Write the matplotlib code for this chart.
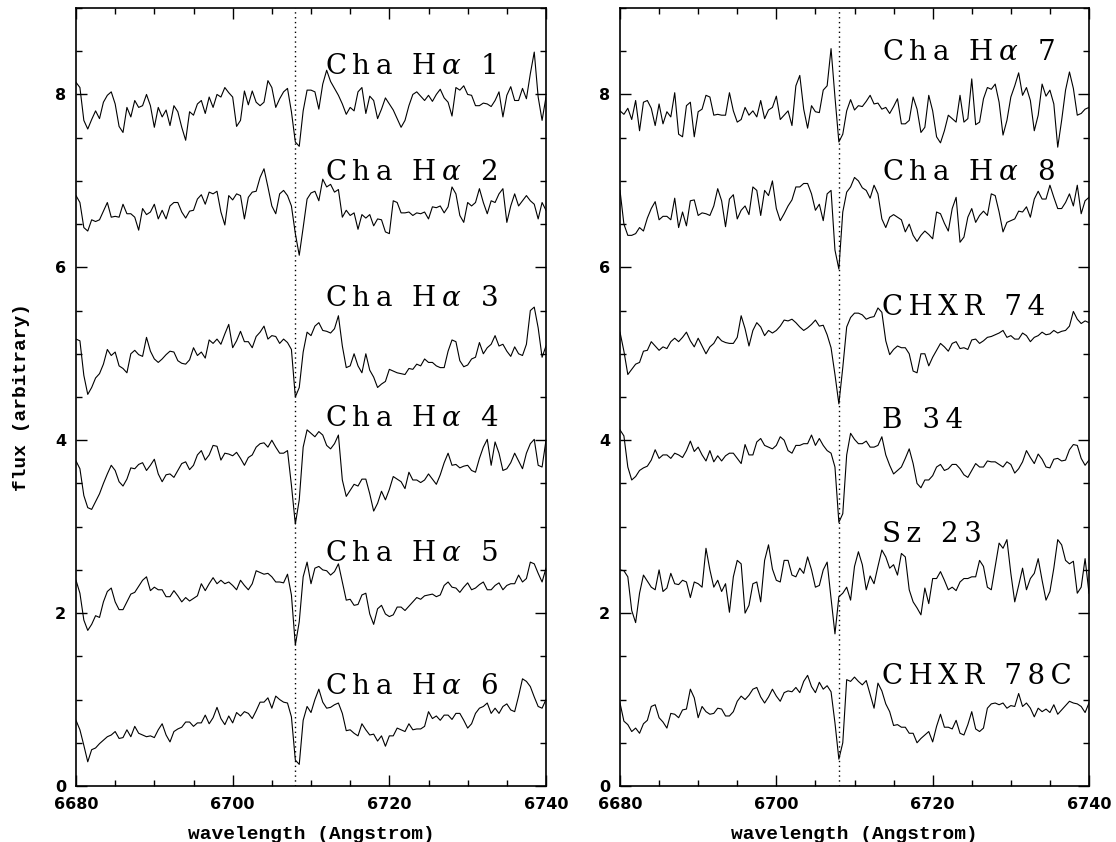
import numpy as np
import matplotlib
matplotlib.use("Agg")
import matplotlib.pyplot as plt
from matplotlib.ticker import MultipleLocator

# -----------------------------
# Data (0.5 A sampling)
# -----------------------------
wave = np.linspace(6680, 6740, 121)

cha1 = [8.14, 8.08, 7.70, 7.60, 7.71, 7.81, 7.72, 7.91, 7.99, 8.03,
        7.89, 7.63, 7.56, 7.85, 7.74, 7.93, 7.85, 7.87, 8.00, 7.87,
        7.62, 7.85, 7.74, 7.82, 7.64, 7.87, 7.80, 7.62, 7.47, 7.80,
        7.76, 7.89, 7.93, 7.78, 7.97, 7.85, 8.00, 7.97, 8.08, 8.02,
        7.97, 7.63, 7.70, 8.04, 7.88, 8.04, 7.91, 7.87, 7.91, 8.16,
        8.08, 7.85, 7.95, 8.03, 8.07, 7.80, 7.45, 7.40, 7.81, 8.05,
        8.05, 8.03, 7.83, 8.12, 8.28, 8.15, 8.07, 7.99, 7.89, 7.77,
        7.85, 7.81, 8.03, 8.08, 7.78, 7.98, 7.93, 7.72, 7.83, 7.96,
        7.89, 7.82, 7.72, 7.62, 7.70, 7.87, 8.00, 8.03, 7.98, 7.93,
        7.99, 7.92, 8.00, 8.06, 7.96, 7.91, 7.75, 8.08, 8.05, 8.10,
        8.00, 7.99, 7.87, 7.87, 7.90, 7.89, 7.86, 7.93, 8.03, 7.74,
        7.99, 8.09, 7.93, 7.93, 8.07, 7.95, 8.24, 8.49, 7.97, 7.70,
        7.97]
cha2 = [6.83, 6.75, 6.46, 6.42, 6.55, 6.53, 6.55, 6.65, 6.75, 6.58,
        6.59, 6.58, 6.73, 6.62, 6.62, 6.58, 6.43, 6.68, 6.61, 6.64,
        6.73, 6.56, 6.66, 6.56, 6.71, 6.75, 6.75, 6.64, 6.57, 6.65,
        6.66, 6.79, 6.84, 6.73, 6.87, 6.85, 6.88, 6.64, 6.49, 6.83,
        6.78, 6.85, 6.83, 6.56, 6.81, 6.87, 6.88, 7.04, 7.14, 6.93,
        6.71, 6.62, 6.85, 6.89, 6.83, 6.71, 6.39, 6.14, 6.46, 6.79,
        6.86, 6.88, 6.77, 7.02, 6.93, 6.96, 6.87, 6.90, 6.58, 6.66,
        6.60, 6.63, 6.44, 6.61, 6.57, 6.61, 6.48, 6.56, 6.55, 6.41,
        6.39, 6.77, 6.75, 6.63, 6.63, 6.64, 6.60, 6.63, 6.62, 6.64,
        6.56, 6.70, 6.69, 6.71, 6.63, 6.70, 6.93, 6.85, 6.60, 6.52,
        6.75, 6.71, 6.75, 6.91, 6.75, 6.62, 6.77, 6.75, 6.85, 6.91,
        6.52, 6.71, 6.85, 6.71, 6.77, 6.83, 6.77, 6.73, 6.56, 6.75,
        6.66]
cha3 = [5.17, 5.15, 4.75, 4.53, 4.61, 4.72, 4.77, 4.88, 5.05, 4.98,
        5.02, 4.86, 4.83, 4.78, 5.00, 5.04, 4.99, 4.97, 5.19, 5.03,
        4.94, 4.90, 4.94, 4.99, 5.03, 5.02, 4.92, 4.89, 4.88, 4.93,
        5.07, 4.98, 5.02, 4.95, 5.16, 5.12, 5.17, 5.11, 5.23, 5.34,
        5.07, 5.15, 5.26, 5.14, 5.14, 5.07, 5.20, 5.25, 5.32, 5.17,
        5.21, 5.20, 5.12, 5.17, 5.13, 5.05, 4.50, 4.61, 5.02, 5.25,
        5.21, 5.32, 5.36, 5.27, 5.26, 5.24, 5.29, 5.44, 5.09, 4.84,
        4.86, 5.00, 4.86, 4.78, 5.00, 4.81, 4.73, 4.61, 4.65, 4.68,
        4.82, 4.80, 4.78, 4.77, 4.76, 4.83, 4.82, 4.88, 4.86, 4.94,
        4.90, 4.90, 4.86, 4.84, 4.84, 5.03, 5.16, 5.14, 4.92, 4.85,
        4.87, 4.94, 4.96, 5.13, 5.00, 5.07, 5.11, 5.21, 5.09, 5.11,
        5.03, 4.97, 5.08, 5.00, 4.98, 5.11, 5.50, 5.54, 5.30, 4.96,
        5.09]
cha4 = [3.76, 3.67, 3.36, 3.22, 3.20, 3.29, 3.38, 3.50, 3.61, 3.71,
        3.65, 3.52, 3.47, 3.55, 3.68, 3.67, 3.72, 3.74, 3.65, 3.71,
        3.78, 3.61, 3.52, 3.60, 3.61, 3.57, 3.65, 3.73, 3.75, 3.66,
        3.71, 3.83, 3.88, 3.77, 3.83, 3.94, 3.93, 3.77, 3.85, 3.84,
        3.82, 3.86, 3.79, 3.71, 3.80, 3.83, 3.92, 3.96, 3.97, 3.92,
        4.00, 3.92, 3.85, 3.85, 3.88, 3.48, 3.03, 3.31, 3.92, 4.12,
        4.08, 4.04, 4.10, 4.06, 3.94, 3.90, 3.96, 4.06, 3.54, 3.35,
        3.42, 3.49, 3.47, 3.55, 3.55, 3.38, 3.18, 3.27, 3.41, 3.31,
        3.43, 3.58, 3.55, 3.52, 3.44, 3.63, 3.54, 3.54, 3.51, 3.54,
        3.61, 3.55, 3.49, 3.60, 3.74, 3.85, 3.71, 3.72, 3.68, 3.70,
        3.71, 3.65, 3.63, 3.79, 3.92, 4.01, 3.71, 3.98, 3.85, 3.65,
        3.67, 3.74, 3.85, 3.76, 3.67, 3.85, 3.96, 4.01, 3.71, 3.69,
        4.00]
cha5 = [2.38, 2.23, 1.92, 1.80, 1.87, 1.97, 1.95, 2.13, 2.25, 2.29,
        2.13, 2.04, 2.04, 2.13, 2.22, 2.24, 2.31, 2.38, 2.42, 2.26,
        2.30, 2.27, 2.27, 2.19, 2.19, 2.26, 2.20, 2.13, 2.18, 2.14,
        2.17, 2.20, 2.34, 2.26, 2.34, 2.41, 2.34, 2.38, 2.34, 2.36,
        2.32, 2.27, 2.38, 2.32, 2.27, 2.34, 2.49, 2.47, 2.45, 2.46,
        2.42, 2.36, 2.36, 2.35, 2.45, 2.21, 1.63, 1.90, 2.42, 2.59,
        2.34, 2.52, 2.54, 2.50, 2.49, 2.44, 2.48, 2.57, 2.36, 2.15,
        2.16, 2.09, 2.10, 2.21, 2.23, 1.99, 1.87, 2.05, 2.09, 1.99,
        1.96, 1.98, 2.07, 2.07, 2.03, 2.08, 2.13, 2.18, 2.16, 2.20,
        2.21, 2.22, 2.19, 2.21, 2.32, 2.36, 2.30, 2.29, 2.24, 2.30,
        2.35, 2.27, 2.29, 2.33, 2.36, 2.27, 2.27, 2.32, 2.35, 2.27,
        2.32, 2.34, 2.34, 2.44, 2.36, 2.40, 2.59, 2.57, 2.46, 2.36,
        2.52]
cha6 = [0.76, 0.65, 0.47, 0.28, 0.42, 0.44, 0.49, 0.53, 0.57, 0.59,
        0.63, 0.55, 0.56, 0.65, 0.57, 0.69, 0.61, 0.59, 0.57, 0.58,
        0.56, 0.65, 0.72, 0.59, 0.51, 0.63, 0.66, 0.68, 0.74, 0.74,
        0.69, 0.73, 0.73, 0.82, 0.72, 0.79, 0.91, 0.78, 0.71, 0.81,
        0.73, 0.85, 0.81, 0.86, 0.84, 0.78, 0.87, 0.97, 0.97, 1.02,
        0.90, 1.04, 1.00, 0.97, 0.96, 0.80, 0.30, 0.25, 0.76, 0.92,
        0.85, 1.00, 1.12, 0.97, 0.90, 0.91, 0.94, 0.96, 0.84, 0.64,
        0.65, 0.61, 0.58, 0.72, 0.65, 0.59, 0.60, 0.52, 0.58, 0.46,
        0.58, 0.58, 0.67, 0.65, 0.63, 0.72, 0.65, 0.66, 0.66, 0.69,
        0.86, 0.78, 0.81, 0.76, 0.82, 0.82, 0.77, 0.84, 0.84, 0.76,
        0.67, 0.72, 0.84, 0.90, 0.92, 0.96, 0.84, 0.90, 0.84, 0.92,
        0.95, 0.88, 0.86, 1.04, 1.24, 1.21, 1.15, 1.03, 0.92, 0.90,
        1.00]

cha7 = [7.81, 7.77, 7.84, 7.71, 7.93, 7.58, 7.91, 7.93, 7.84, 7.64,
        7.89, 7.66, 7.80, 7.74, 8.02, 7.54, 7.51, 7.87, 7.91, 7.51,
        7.80, 7.83, 7.99, 7.97, 7.76, 7.77, 7.76, 7.76, 8.02, 7.81,
        7.68, 7.71, 7.85, 7.76, 7.81, 7.74, 7.93, 7.72, 7.82, 7.85,
        7.98, 7.71, 7.76, 7.81, 7.64, 8.10, 8.22, 7.83, 7.61, 7.87,
        7.80, 7.79, 8.05, 8.10, 8.53, 7.97, 7.45, 7.54, 7.81, 7.94,
        7.82, 7.87, 7.86, 7.92, 7.99, 7.89, 7.90, 7.83, 7.85, 7.78,
        7.86, 7.95, 7.66, 7.66, 7.70, 7.97, 7.83, 7.56, 7.62, 7.99,
        7.81, 7.51, 7.44, 7.58, 7.76, 7.72, 7.68, 7.99, 7.68, 7.72,
        8.18, 7.65, 7.68, 7.95, 8.08, 8.06, 8.12, 7.91, 7.53, 7.70,
        7.97, 8.10, 8.25, 7.99, 8.08, 7.93, 7.58, 7.76, 8.12, 7.98,
        8.05, 7.89, 7.39, 7.70, 8.05, 8.26, 8.07, 7.76, 7.78, 7.83,
        7.85]
cha8 = [6.89, 6.50, 6.37, 6.37, 6.39, 6.46, 6.42, 6.57, 6.68, 6.76,
        6.55, 6.59, 6.59, 6.55, 6.80, 6.46, 6.64, 6.48, 6.77, 6.78,
        6.60, 6.63, 6.62, 6.60, 6.71, 6.91, 6.77, 6.47, 6.79, 6.84,
        6.56, 6.66, 6.71, 6.61, 6.93, 6.89, 6.60, 6.89, 6.83, 7.00,
        6.68, 6.54, 6.62, 6.71, 6.78, 6.93, 6.93, 6.97, 6.97, 6.85,
        6.66, 6.73, 6.54, 6.85, 6.89, 6.20, 5.98, 6.64, 6.87, 6.93,
        7.04, 7.00, 6.92, 6.89, 6.80, 6.95, 6.85, 6.56, 6.46, 6.58,
        6.61, 6.58, 6.55, 6.41, 6.50, 6.37, 6.30, 6.37, 6.42, 6.38,
        6.33, 6.64, 6.62, 6.51, 6.42, 6.68, 6.81, 6.29, 6.35, 6.58,
        6.68, 6.52, 6.60, 6.65, 6.60, 6.85, 6.83, 6.64, 6.41, 6.52,
        6.54, 6.56, 6.65, 6.64, 6.70, 6.58, 6.79, 6.88, 6.79, 6.79,
        6.95, 6.81, 6.68, 6.68, 6.75, 6.85, 6.71, 6.95, 6.62, 6.77,
        6.81]
chxr74 = [5.25, 5.03, 4.76, 4.82, 4.88, 4.90, 5.03, 5.04, 5.14, 5.09,
          5.04, 5.08, 5.06, 5.14, 5.18, 5.14, 5.19, 5.25, 5.15, 5.08,
          5.18, 5.09, 5.00, 5.08, 5.12, 5.20, 5.15, 5.13, 5.12, 5.12,
          5.19, 5.44, 5.29, 5.09, 5.27, 5.36, 5.31, 5.21, 5.27, 5.24,
          5.27, 5.32, 5.39, 5.38, 5.40, 5.36, 5.31, 5.27, 5.30, 5.34,
          5.39, 5.32, 5.33, 5.22, 5.07, 4.76, 4.42, 4.84, 5.31, 5.42,
          5.47, 5.47, 5.45, 5.40, 5.42, 5.43, 5.53, 5.48, 5.15, 4.99,
          5.05, 5.09, 5.07, 5.07, 5.00, 4.80, 4.78, 5.00, 5.00, 4.86,
          4.96, 5.04, 5.12, 5.08, 5.03, 5.12, 5.14, 5.06, 5.07, 5.05,
          5.16, 5.17, 5.12, 5.15, 5.19, 5.20, 5.22, 5.24, 5.27, 5.19,
          5.21, 5.17, 5.17, 5.24, 5.21, 5.14, 5.19, 5.21, 5.25, 5.22,
          5.23, 5.27, 5.24, 5.26, 5.27, 5.32, 5.49, 5.40, 5.35, 5.38,
          5.36]
b34 = [4.12, 4.05, 3.69, 3.54, 3.58, 3.65, 3.68, 3.70, 3.77, 3.89,
       3.79, 3.83, 3.83, 3.79, 3.85, 3.83, 3.80, 3.88, 3.99, 3.87,
       3.92, 3.83, 3.76, 3.88, 3.75, 3.82, 3.76, 3.82, 3.85, 3.85,
       3.79, 3.73, 3.95, 3.83, 3.83, 3.98, 4.02, 3.94, 3.92, 3.90,
       3.94, 4.04, 4.00, 3.88, 3.85, 3.94, 3.94, 3.96, 3.96, 4.06,
       3.94, 4.02, 3.94, 3.88, 3.85, 3.69, 3.05, 3.15, 3.83, 4.08,
       4.01, 3.96, 3.96, 3.99, 3.92, 3.92, 3.94, 4.04, 3.83, 3.71,
       3.61, 3.65, 3.69, 3.79, 3.90, 3.73, 3.50, 3.45, 3.54, 3.54,
       3.59, 3.69, 3.72, 3.65, 3.67, 3.72, 3.72, 3.67, 3.60, 3.57,
       3.65, 3.73, 3.69, 3.69, 3.76, 3.75, 3.75, 3.72, 3.69, 3.75,
       3.72, 3.62, 3.67, 3.75, 3.88, 3.80, 3.73, 3.84, 3.78, 3.69,
       3.68, 3.78, 3.79, 3.76, 3.77, 3.89, 3.95, 3.94, 3.79, 3.71,
       3.77]
sz23 = [2.50, 2.49, 2.42, 2.03, 1.89, 2.23, 2.44, 2.37, 2.30, 2.27,
        2.50, 2.25, 2.29, 2.46, 2.34, 2.33, 2.38, 2.36, 2.18, 2.36,
        2.34, 2.30, 2.75, 2.50, 2.30, 2.38, 2.25, 2.34, 2.01, 2.42,
        2.61, 2.57, 2.00, 2.09, 2.34, 2.36, 2.13, 2.61, 2.79, 2.51,
        2.38, 2.36, 2.61, 2.61, 2.44, 2.42, 2.52, 2.46, 2.65, 2.50,
        2.30, 2.32, 2.50, 2.59, 2.17, 1.76, 2.19, 2.23, 2.30, 2.15,
        2.54, 2.71, 2.56, 2.27, 2.43, 2.34, 2.54, 2.73, 2.65, 2.52,
        2.56, 2.44, 2.69, 2.65, 2.27, 2.13, 2.06, 1.98, 2.29, 2.11,
        2.40, 2.40, 2.48, 2.38, 2.27, 2.30, 2.26, 2.36, 2.40, 2.40,
        2.42, 2.42, 2.61, 2.54, 2.30, 2.27, 2.54, 2.81, 2.75, 2.85,
        2.46, 2.13, 2.32, 2.52, 2.27, 2.40, 2.46, 2.63, 2.38, 2.15,
        2.25, 2.52, 2.85, 2.79, 2.61, 2.57, 2.60, 2.23, 2.30, 2.63,
        2.23]
chxr78c = [0.96, 0.75, 0.71, 0.63, 0.67, 0.61, 0.72, 0.76, 0.92, 0.94,
           0.79, 0.74, 0.67, 0.84, 0.83, 0.79, 0.88, 0.89, 1.12, 1.02,
           0.79, 0.92, 0.86, 0.83, 0.84, 0.90, 0.89, 0.81, 0.81, 0.86,
           0.98, 1.04, 1.00, 1.05, 1.12, 1.14, 1.03, 0.96, 1.03, 1.12,
           1.04, 0.98, 1.08, 1.10, 1.09, 1.14, 1.08, 1.21, 1.28, 1.15,
           1.08, 1.20, 1.12, 1.16, 1.09, 0.73, 0.31, 0.50, 1.23, 1.21,
           1.26, 1.21, 1.17, 1.22, 1.06, 0.90, 1.19, 1.10, 0.95, 0.86,
           0.70, 0.71, 0.68, 0.68, 0.61, 0.61, 0.50, 0.55, 0.59, 0.63,
           0.51, 0.69, 0.83, 0.68, 0.68, 0.66, 0.76, 0.61, 0.59, 0.71,
           0.86, 0.66, 0.63, 0.67, 0.90, 0.95, 0.96, 0.94, 0.96, 0.90,
           0.93, 0.92, 1.07, 0.92, 0.96, 0.90, 0.80, 0.90, 0.86, 0.89,
           0.85, 0.94, 0.83, 0.88, 0.93, 0.98, 0.96, 0.95, 0.92, 0.85,
           0.96]

left_spectra = [cha1, cha2, cha3, cha4, cha5, cha6]
left_names = ["Cha H$\\alpha$ 1", "Cha H$\\alpha$ 2", "Cha H$\\alpha$ 3",
              "Cha H$\\alpha$ 4", "Cha H$\\alpha$ 5", "Cha H$\\alpha$ 6"]
left_label_y = [8.32, 7.10, 5.64, 4.25, 2.69, 1.15]

right_spectra = [cha7, cha8, chxr74, b34, sz23, chxr78c]
right_names = ["Cha H$\\alpha$ 7", "Cha H$\\alpha$ 8", "CHXR 74",
               "B 34", "Sz 23", "CHXR 78C"]
right_label_y = [8.48, 7.10, 5.54, 4.23, 2.91, 1.27]

line_center = 6708.0

# -----------------------------
# Style
# -----------------------------
plt.rcParams['mathtext.fontset'] = 'dejavuserif'

label_font = dict(family='DejaVu Serif', fontsize=20)
axis_font = dict(family='Liberation Mono', fontsize=14, fontweight='bold')

THIN = '\u2009'


def spaced(name):
    # wide letter spacing like the plotting-package stroke font
    alpha = '$\\alpha$'
    parts = [THIN.join(p) for p in name.split(alpha)]
    return (THIN + alpha + THIN).join(parts)


fig = plt.figure(figsize=(11.16, 8.42), dpi=100)
ax_left = fig.add_axes([76 / 1116, 56 / 842, 470 / 1116, 778 / 842])
ax_right = fig.add_axes([620 / 1116, 56 / 842, 469 / 1116, 778 / 842])


def style_panel(ax):
    ax.set_xlim(6680, 6740)
    ax.set_ylim(0, 9)
    ax.xaxis.set_major_locator(MultipleLocator(20))
    ax.xaxis.set_minor_locator(MultipleLocator(5))
    ax.yaxis.set_major_locator(MultipleLocator(2))
    ax.yaxis.set_minor_locator(MultipleLocator(0.5))
    ax.tick_params(which='both', direction='in', top=True, right=True,
                   width=1.0, colors='black')
    ax.tick_params(which='major', length=8)
    ax.tick_params(which='minor', length=4.5)
    ax.tick_params(axis='x', pad=8)
    ax.tick_params(axis='y', pad=7)
    for lab in ax.get_xticklabels() + ax.get_yticklabels():
        lab.set_family('DejaVu Sans')
        lab.set_fontweight('bold')
        lab.set_fontsize(11.5)
    for sp in ax.spines.values():
        sp.set_linewidth(1.2)
    ax.set_xlabel('wavelength (Angstrom)', labelpad=10, **axis_font)


for ax, spectra, names, ys, x_text in [
        (ax_left, left_spectra, left_names, left_label_y, 6711.8),
        (ax_right, right_spectra, right_names, right_label_y, 6713.5)]:
    style_panel(ax)
    ax.axvline(line_center, color='black', linestyle=(0, (1, 2.5)), linewidth=1.0)
    for flux, name, y in zip(spectra, names, ys):
        ax.plot(wave, flux, color='black', linewidth=0.8)
        ax.text(x_text, y, spaced(name), ha='left', va='center', **label_font)

fig.text(22 / 1116, (56 + 389) / 842, 'flux (arbitrary)', rotation=90,
         ha='center', va='center', **axis_font)

fig.savefig('out.png', dpi=100)
